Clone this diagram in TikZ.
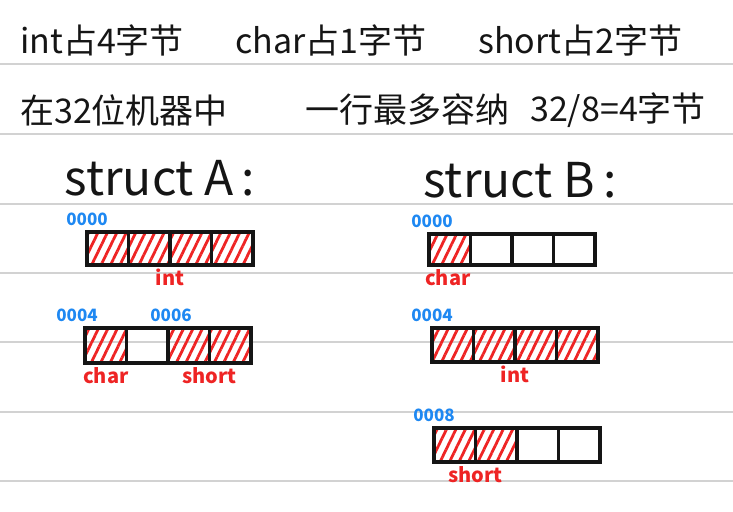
\documentclass[tikz,border=0pt]{standalone}
\usepackage{fontspec}
\setmainfont{Noto Sans CJK SC}
\usetikzlibrary{positioning,patterns.meta}
\definecolor{ink}{HTML}{151515}
\definecolor{pen}{HTML}{EE2424}
\definecolor{addr}{HTML}{1E88F2}
\definecolor{rule}{HTML}{D2D2D2}
\tikzset{head/.style={anchor=west,inner sep=0pt,text=ink,font=\fontsize{34}{34}\selectfont},
         title/.style={inner sep=0pt,text=ink,font=\fontsize{48}{48}\selectfont},
         cell/.style={draw=ink,line width=3.4pt,inner sep=0pt,outer sep=0pt,minimum height=33pt,minimum width=41.5pt},
         fullcell/.style={cell,pattern={Lines[angle=64,distance=8.5pt,line width=2.8pt]},pattern color=pen},
         addrlbl/.style={inner sep=0pt,text=addr,font=\fontsize{17}{17}\selectfont\bfseries},
         typelbl/.style={inner sep=0pt,text=pen,font=\fontsize{20}{20}\selectfont\bfseries},
         ruling/.style={rule,line width=1.6pt}}

\begin{document}
\begin{tikzpicture}[x=1pt,y=-1pt]
 \useasboundingbox (0,0) rectangle (733,511);
 % ruled paper
 \foreach \ry in {64,134,204,273,342,412,481}
  \draw[ruling] (0,\ry) -- (733,\ry);
 % header lines
 \node[head] (h1) at (20,40) {int占4字节};
 \node[head] (h2) at (235,40) {char占1字节};
 \node[head] (h3) at (478,40) {short占2字节};
 \node[head] (h4) at (20,110) {在32位机器中};
 \node[head] (h5) at (305,110) {一行最多容纳};
 \node[head] (h6) at (530,110) {32/8=4字节};
 \node[title] (sa) at (160,178) {struct A\,:};
 \node[title] (sb) at (520,180) {struct B\,:};
 % struct A
 \node[fullcell,anchor=north west] (a11) at (87,232) {};
 \node[fullcell,right=0pt of a11] (a12) {};
 \node[fullcell,right=0pt of a12] (a13) {};
 \node[fullcell,right=0pt of a13] (a14) {};
 \node[fullcell,anchor=north west,minimum height=35pt] (a21) at (85,328) {};
 \node[cell,right=0pt of a21,minimum height=35pt] (a22) {};
 \node[fullcell,right=0pt of a22,minimum height=35pt] (a23) {};
 \node[fullcell,right=0pt of a23,minimum height=35pt] (a24) {};
 \node[addrlbl,above=6pt of a11.north west,anchor=south] (aa1) {0000};
 \node[typelbl,below=4pt of a12.south east] (ta1) {int};
 \node[addrlbl,above=6pt of a21.north west,xshift=-8pt,anchor=south] (aa2) {0004};
 \node[addrlbl,above=6pt of a23.north west,xshift=3pt,anchor=south] (aa3) {0006};
 \node[typelbl,below=4pt of a21.south] (ta2) {char};
 \node[typelbl,below=4pt of a23.south east] (ta3) {short};
 % struct B
 \node[fullcell,anchor=north west,minimum height=31pt] (b11) at (429,234) {};
 \node[cell,right=0pt of b11,minimum height=31pt] (b12) {};
 \node[cell,right=0pt of b12,minimum height=31pt] (b13) {};
 \node[cell,right=0pt of b13,minimum height=31pt] (b14) {};
 \node[fullcell,anchor=north west,minimum height=34pt] (b21) at (432,328) {};
 \node[fullcell,right=0pt of b21,minimum height=34pt] (b22) {};
 \node[fullcell,right=0pt of b22,minimum height=34pt] (b23) {};
 \node[fullcell,right=0pt of b23,minimum height=34pt] (b24) {};
 \node[fullcell,anchor=north west,minimum height=34pt] (b31) at (434,428) {};
 \node[fullcell,right=0pt of b31,minimum height=34pt] (b32) {};
 \node[cell,right=0pt of b32,minimum height=34pt] (b33) {};
 \node[cell,right=0pt of b33,minimum height=34pt] (b34) {};
 \node[addrlbl,above=6pt of b11.north west,xshift=3pt,anchor=south] (ba1) {0000};
 \node[typelbl,below=4pt of b11.south,xshift=-2pt] (tb1) {char};
 \node[addrlbl,above=6pt of b21.north west,anchor=south] (ba2) {0004};
 \node[typelbl,below=4pt of b22.south east] (tb2) {int};
 \node[addrlbl,above=6pt of b31.north west,anchor=south] (ba3) {0008};
 \node[typelbl,below=4pt of b32.south west] (tb3) {short};
\end{tikzpicture}
\end{document}
